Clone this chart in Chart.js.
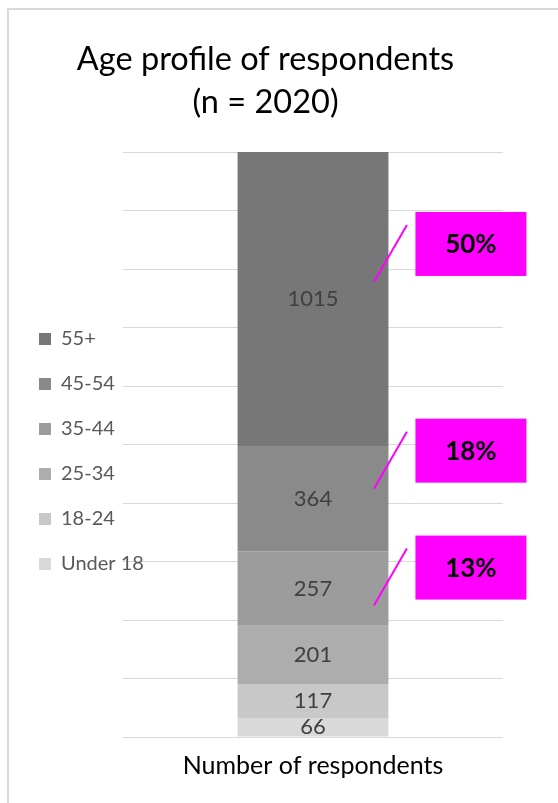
<!DOCTYPE html>
<html lang="en">
    <head>
        <meta charset="UTF-8" />
        <title>Age profile of respondents</title>
        <script src="https://cdn.jsdelivr.net/npm/chart.js"></script>
        <style>
            body {
                margin: 0;
                background: #fff;
                overflow: hidden;
            }
            .frame {
                position: absolute;
                left: 7px;
                top: 8px;
                width: 551px;
                height: 795px;
                box-sizing: border-box;
                border-left: 2px solid #d9d9d9;
                border-top: 2px solid #d9d9d9;
            }
        </style>
    </head>
    <body>
        <div class="frame">
            <canvas id="ageChart" width="549" height="793"></canvas>
        </div>

        <script>
            // Chart data
            const categories = ["Number of respondents"];
            const ageGroups = ["Under 18", "18-24", "25-34", "35-44", "45-54", "55+"];
            const counts = [66, 117, 201, 257, 364, 1015];
            const greys = ["#d9d9d9", "#c8c8c8", "#adadad", "#9c9c9c", "#8a8a8a", "#777777"];
            const calloutGroups = ["55+", "45-54", "35-44"];
            const calloutShift = [-17, -10, 17]; // nudges from segment centre (px)

            const total = counts.reduce((a, b) => a + b, 0);
            const FONT = "Lato, 'Open Sans', sans-serif";

            // Value labels inside the bar + magenta percentage callouts
            const labelPlugin = {
                id: "segmentLabels",
                beforeDraw(chart) {
                    // let "Under 18" run over the plot area like the original
                    chart.legend.right = chart.width;
                    // title sits a little right of the canvas centre
                    chart.titleBlock.left += 14;
                },
                afterDatasetsDraw(chart) {
                    const ctx = chart.ctx;
                    ctx.save();
                    ctx.font = "22px " + FONT;
                    ctx.fillStyle = "#404040";
                    ctx.textAlign = "center";
                    ctx.textBaseline = "middle";
                    chart.data.datasets.forEach((ds, i) => {
                        const bar = chart.getDatasetMeta(i).data[0];
                        ctx.fillText(ds.data[0], bar.x, (bar.y + bar.base) / 2);
                    });

                    calloutGroups.forEach((group, k) => {
                        const i = ageGroups.indexOf(group);
                        const bar = chart.getDatasetMeta(i).data[0];
                        const right = bar.x + bar.width / 2;
                        const x0 = right - 14.5;
                        const y0 = (bar.y + bar.base) / 2 + calloutShift[k];
                        const x1 = x0 + 33;
                        const y1 = y0 - 57;
                        ctx.strokeStyle = "#ff00ff";
                        ctx.lineWidth = 2;
                        ctx.beginPath();
                        ctx.moveTo(x0, y0);
                        ctx.lineTo(x1, y1);
                        ctx.stroke();

                        const bx = x1 + 8.5;
                        const by = y1 - 13;
                        ctx.fillStyle = "#ff00ff";
                        ctx.fillRect(bx, by, 111, 64);
                        ctx.fillStyle = "#000";
                        ctx.font = "bold 26px " + FONT;
                        const pct = Math.round((counts[i] / total) * 100) + "%";
                        ctx.fillText(pct, bx + 55.5, by + 33);
                    });
                    ctx.restore();
                },
            };

            const datasets = ageGroups.map((g, i) => ({
                label: g,
                data: [counts[i]],
                backgroundColor: greys[i],
                borderWidth: 0,
                barPercentage: 0.397,
                categoryPercentage: 1,
            }));

            new Chart(document.getElementById("ageChart"), {
                type: "bar",
                data: { labels: categories, datasets: datasets },
                plugins: [labelPlugin],
                options: {
                    responsive: false,
                    animation: false,
                    devicePixelRatio: 1,
                    layout: { padding: { left: 5, right: 55, top: 0, bottom: 8 } },
                    plugins: {
                        tooltip: { enabled: false },
                        title: {
                            display: true,
                            text: ["Age profile of respondents", "(n = " + total + ")"],
                            color: "#000",
                            font: { family: FONT, size: 32.5, weight: "normal", lineHeight: 43 / 32.5 },
                            padding: { top: 28, bottom: 28 },
                        },
                        legend: {
                            position: "left",
                            fullSize: false,
                            reverse: true,
                            maxWidth: 109,
                            title: { display: true, text: " ", font: { size: 10 }, padding: 1 },
                            labels: {
                                color: "#595959",
                                font: { family: FONT, size: 20 },
                                boxWidth: 12,
                                boxHeight: 12,
                                padding: 25,
                            },
                        },
                    },
                    scales: {
                        x: {
                            stacked: true,
                            border: { display: false },
                            grid: { display: false, drawTicks: false },
                            ticks: {
                                color: "#000",
                                padding: 14,
                                font: { family: FONT, size: 25 },
                            },
                        },
                        y: {
                            stacked: true,
                            min: 0,
                            max: 2020,
                            border: { display: false },
                            grid: { color: "#d9d9d9", lineWidth: 1, drawTicks: false },
                            ticks: { display: false, stepSize: 202 },
                        },
                    },
                },
            });
        </script>
    </body>
</html>
